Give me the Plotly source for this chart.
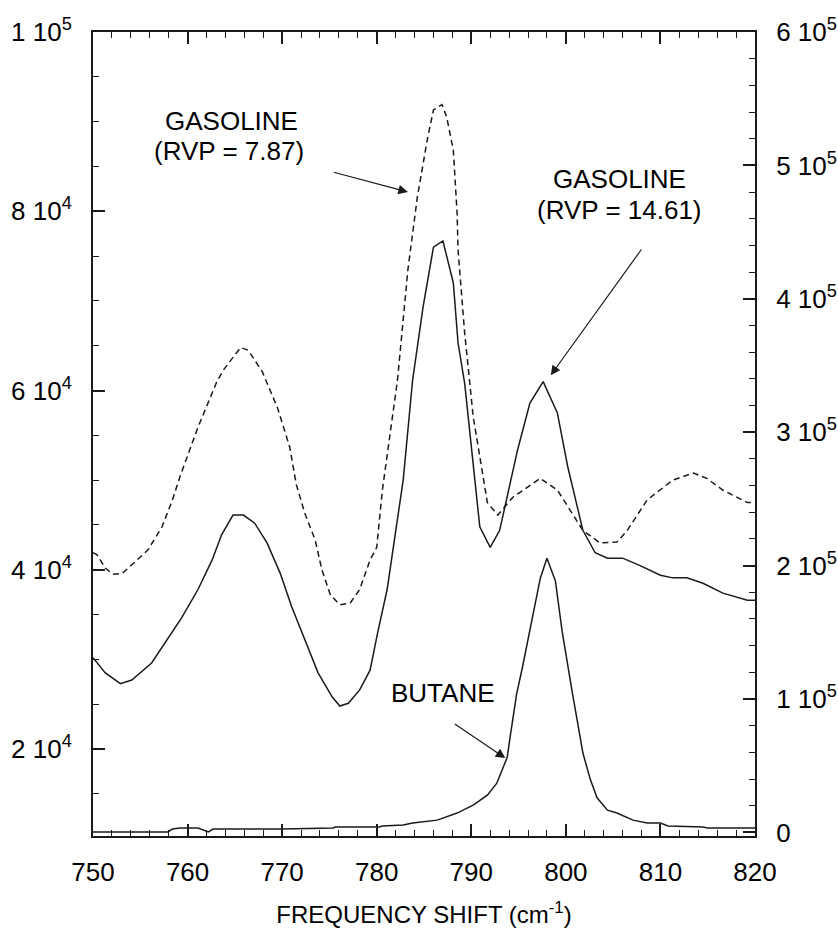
import plotly.graph_objects as go

# ---- data (frequency shift in cm^-1) ----
gas1461_x = [750.0, 751.3, 752.9, 754.1, 756.2, 757.6, 759.4, 761.1, 762.6, 763.6, 764.8, 765.9,
             767.1, 768.4, 769.8, 771.0, 772.4, 773.8, 775.3, 776.1, 777.0, 778.2, 779.3, 780.1,
             781.1, 781.9, 782.8, 783.8, 784.9, 786.0, 787.0, 788.1, 788.6, 789.3, 790.9, 792.0,
             793.0, 794.9, 796.2, 797.6, 799.1, 800.2, 801.8, 803.1, 804.4, 806.0, 807.8, 810.0,
             811.3, 812.8, 814.5, 816.6, 819.2, 820.0]
gas1461_y = [30200, 28500, 27300, 27700, 29600, 31800, 34700, 37800, 41100, 43900, 46100, 46100,
             45200, 43000, 39600, 35900, 32200, 28500, 25800, 24800, 25100, 26600, 28800, 33000,
             37800, 43700, 50000, 61200, 69300, 76000, 76700, 72000, 65300, 60800, 44800, 42500,
             44400, 53400, 58600, 61000, 57500, 51500, 44400, 41900, 41300, 41300, 40500, 39400,
             39100, 39100, 38500, 37400, 36600, 36600]

gas787_x = [750.0, 750.4, 751.3, 752.1, 753.1, 754.4, 755.8, 757.3, 758.4, 759.2, 761.1, 763.1,
            763.8, 765.6, 766.4, 767.9, 769.5, 770.8, 771.5, 772.4, 773.5, 774.2, 775.1, 776.1,
            777.2, 778.2, 779.3, 780.0, 780.6, 782.2, 783.3, 784.3, 784.9, 785.4, 786.0, 786.9,
            787.4, 788.1, 788.5, 788.6, 789.3, 790.2, 791.7, 792.8, 794.4, 797.3, 799.1, 800.4,
            801.8, 803.6, 805.4, 806.5, 808.6, 811.3, 813.5, 814.9, 816.6, 819.2, 820.0]
gas787_y = [41900, 41700, 40200, 39500, 39600, 40800, 42200, 44800, 47800, 50400, 55900, 61000,
            62300, 64800, 64500, 62100, 58100, 53700, 49500, 46300, 43300, 40000, 37200, 36100,
            36300, 37800, 41100, 42500, 48900, 61200, 73500, 81600, 85400, 88300, 91300, 91900,
            90500, 86800, 79800, 75700, 66400, 57100, 47500, 46100, 48100, 50200, 48900, 46700,
            44400, 43000, 43100, 44400, 47800, 50000, 50800, 50200, 48900, 47500, 47500]

butane_x = [750.0, 757.9, 758.4, 759.2, 761.1, 762.2, 762.7, 770.0, 775.4, 775.6, 780.3, 780.6,
            782.8, 783.8, 786.4, 788.5, 790.2, 791.7, 792.7, 793.4, 793.8, 794.1, 794.4, 794.8,
            795.4, 796.2, 797.3, 798.0, 798.9, 799.6, 800.1, 800.7, 801.2, 801.8, 802.6, 803.3,
            804.4, 805.4, 807.1, 808.6, 810.0, 810.8, 814.5, 815.0, 820.0]
butane_y = [300, 300, 2500, 3300, 3300, 300, 2500, 2500, 3300, 4000, 4000, 4800,
            5500, 7000, 9200, 14500, 20400, 27900, 36900, 48800, 56300, 71200, 86100, 104000,
            123400, 151000, 190600, 205500, 188400, 151000, 128700, 104000, 84000, 59500, 39400, 25900,
            16700, 14500, 9200, 7000, 7000, 4800, 4000, 3300, 3300]

left_ticks = [20000, 40000, 60000, 80000, 100000]
left_text = ["2 10<sup>4</sup>", "4 10<sup>4</sup>", "6 10<sup>4</sup>", "8 10<sup>4</sup>", "1 10<sup>5</sup>"]
right_ticks = [0, 100000, 200000, 300000, 400000, 500000, 600000]
right_text = ["0", "1 10<sup>5</sup>", "2 10<sup>5</sup>", "3 10<sup>5</sup>",
              "4 10<sup>5</sup>", "5 10<sup>5</sup>", "6 10<sup>5</sup>"]
x_ticks = [750, 760, 770, 780, 790, 800, 810, 820]

LINE = "#1a1a1a"
FAM = "Liberation Sans, Arial, sans-serif"
FONT = dict(family=FAM, size=26, color="black")

fig = go.Figure()
fig.add_trace(go.Scatter(x=gas787_x, y=gas787_y, mode="lines",
                         line=dict(color=LINE, width=1.5, dash="6px,4px"), yaxis="y"))
fig.add_trace(go.Scatter(x=gas1461_x, y=gas1461_y, mode="lines",
                         line=dict(color=LINE, width=1.5), yaxis="y"))
fig.add_trace(go.Scatter(x=butane_x, y=butane_y, mode="lines",
                         line=dict(color=LINE, width=1.5), yaxis="y2"))

minor_x = dict(dtick=2, tick0=750, ticks="inside", ticklen=6, tickwidth=1.3, tickcolor=LINE)

fig.update_layout(
    width=838, height=929,
    margin=dict(l=93, r=83, t=32, b=93, autoexpand=False),
    paper_bgcolor="white", plot_bgcolor="white",
    showlegend=False,
    font=FONT,
    xaxis=dict(range=[750, 820], tickmode="array", tickvals=x_ticks,
               ticks="inside", ticklen=12, tickwidth=1.5, tickcolor=LINE,
               minor=minor_x, automargin=False,
               showline=True, linecolor=LINE, linewidth=2, mirror=True,
               showgrid=False, zeroline=False, ticklabelstandoff=12,
               title=dict(text="FREQUENCY SHIFT (cm<sup>-1</sup>)", font=dict(size=24), standoff=20),
               tickfont=dict(size=26)),
    xaxis2=dict(range=[750, 820], overlaying="x", side="top", tickmode="array", tickvals=x_ticks,
                ticks="inside", ticklen=12, tickwidth=1.5, tickcolor=LINE,
                minor=minor_x, showticklabels=False, automargin=False,
                showline=True, linecolor=LINE, linewidth=2,
                showgrid=False, zeroline=False),
    yaxis=dict(range=[10300, 100000], tickmode="array", tickvals=left_ticks, ticktext=left_text,
               ticks="inside", ticklen=12, tickwidth=1.5, tickcolor=LINE,
               minor=dict(dtick=5000, tick0=0, ticks="inside", ticklen=6, tickwidth=1.3, tickcolor=LINE),
               showline=True, linecolor=LINE, linewidth=2, mirror=False, automargin=False,
               showgrid=False, zeroline=False, ticklabelstandoff=14,
               tickfont=dict(size=26)),
    yaxis2=dict(range=[-2700, 600000], overlaying="y", side="right",
                tickmode="array", tickvals=right_ticks, ticktext=right_text,
                ticks="inside", ticklen=12, tickwidth=1.5, tickcolor=LINE,
                minor=dict(dtick=20000, tick0=0, ticks="inside", ticklen=6, tickwidth=1.3, tickcolor=LINE),
                showline=True, linecolor=LINE, linewidth=2, automargin=False,
                showgrid=False, zeroline=False, ticklabelstandoff=14,
                tickfont=dict(size=26)),
)

# invisible helper trace so the top axis is drawn
fig.add_trace(go.Scatter(x=[x_ticks[0], x_ticks[-1]], y=[left_ticks[0], left_ticks[0]], mode="lines",
                         line=dict(width=0), xaxis="x2", yaxis="y", hoverinfo="skip", opacity=0))

ann_font = dict(family=FAM, size=26, color="black")
texts = [
    ("GASOLINE", 764.6, 90100),
    ("(RVP = 7.87)", 764.4, 86700),
    ("GASOLINE", 805.7, 83600),
    ("(RVP = 14.61)", 805.7, 80100),
    ("BUTANE", 787.0, 26250),
]
for t, x, y in texts:
    fig.add_annotation(x=x, y=y, xref="x", yref="y", text=t, showarrow=False,
                       font=ann_font, xanchor="center", yanchor="middle")

arrows = [
    (783.3, 82150, 775.3, 84400),
    (798.4, 61700, 808.1, 75900),
    (793.6, 19000, 788.1, 22900),
]
for hx, hy, tx, ty in arrows:
    fig.add_annotation(x=hx, y=hy, ax=tx, ay=ty, xref="x", yref="y", axref="x", ayref="y",
                       text="", showarrow=True, arrowhead=2, arrowsize=1.6, arrowwidth=1.2,
                       arrowcolor=LINE)

fig.write_html("out.html")
